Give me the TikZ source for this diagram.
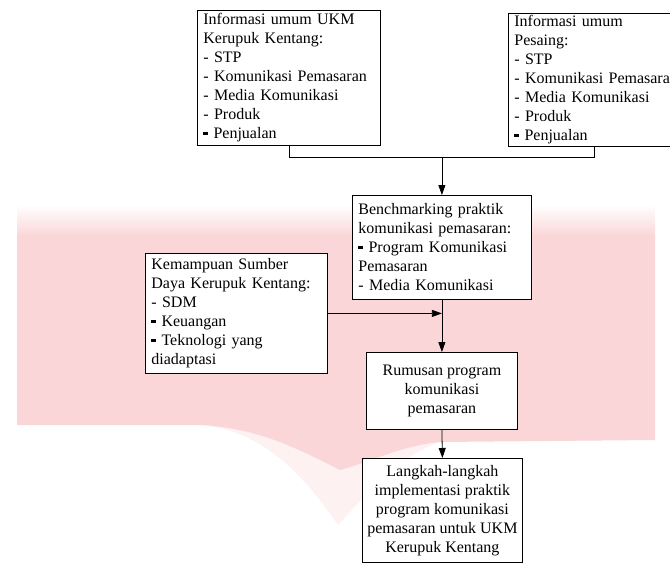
\documentclass[tikz,border=0pt]{standalone}
\usepackage{fontspec}
\setmainfont{Liberation Serif}
\usetikzlibrary{arrows.meta,calc}
\definecolor{wm}{RGB}{250,214,216}
\newcommand\sqb{\rule[0.22em]{0.3em}{0.2em}}
\hyphenpenalty=10000
\begin{document}
\begin{tikzpicture}[x=1pt,y=-1pt,
  box/.style={draw,line width=0.8pt,fill=white,inner ysep=2pt,
    font=\fontsize{16}{19}\selectfont,anchor=north west},
  lbox/.style 2 args={box,inner xsep=6pt,align=left,text width=#1,minimum height=#2},
  cbox/.style 2 args={box,inner xsep=3pt,align=center,minimum width=#1,minimum height=#2},
  arr/.style={line width=0.8pt,-{Triangle[length=10pt,width=7pt]}},
  ln/.style={line width=0.8pt}]
\useasboundingbox (0,0) rectangle (670,563);
\clip (0,0) rectangle (670,563);
% faint background watermark
\shade[top color=white,bottom color=wm] (17,205) rectangle (655,236);
\fill[wm!35] (200,425) .. controls (260,430) and (300,470) .. (338,525)
  .. controls (370,490) and (400,455) .. (440,442) -- cycle;
\fill[wm] (17,235) -- (655,236) -- (655,440) -- (440,442)
  .. controls (400,446) and (370,462) .. (340,470)
  .. controls (300,450) and (260,428) .. (200,425) -- (17,425) -- cycle;
% boxes
\node[lbox={171pt}{135pt}] (A) at (197,10) {Informasi umum UKM\\Kerupuk Kentang:\\- STP\\- Komunikasi Pemasaran\\- Media Komunikasi\\- Produk\\\sqb\ Penjualan};
\node[lbox={172pt}{130pt}] (B) at (508,13) {Informasi umum\\Pesaing:\\- STP\\- Komunikasi Pemasaran\\- Media Komunikasi\\- Produk\\\sqb\ Penjualan};
\node[lbox={167pt}{104pt}] (C) at (352,195) {Benchmarking praktik\\komunikasi pemasaran:\\\sqb\ Program Komunikasi\\Pemasaran\\- Media Komunikasi};
\node[lbox={170pt}{120pt}] (D) at (145,253) {Kemampuan Sumber\\Daya Kerupuk Kentang:\\- SDM\\\sqb\ Keuangan\\\sqb\ Teknologi yang\\diadaptasi};
\node[cbox={151pt}{77pt}] (E) at (366,352) {Rumusan program\\komunikasi\\pemasaran};
\node[cbox={160pt}{104pt}] (F) at (362,458) {Langkah-langkah\\implementasi praktik\\program komunikasi\\pemasaran untuk UKM\\Kerupuk Kentang};
% connectors
\coordinate (J) at ($(C.north)+(0,-38)$);
\coordinate (Bs) at ($(B.south west)+(86,0)$);
\draw[ln] (A.south) -- (A.south |- J) -- (Bs |- J) -- (Bs);
\draw[arr] (J) -- (C.north);
\coordinate (K) at (C.south |- D.east);
\draw[arr] (D.east) -- (K);
\draw[arr] (C.south) -- (E.north);
\draw[arr] (E.south) -- (F.north);
\end{tikzpicture}
\end{document}
